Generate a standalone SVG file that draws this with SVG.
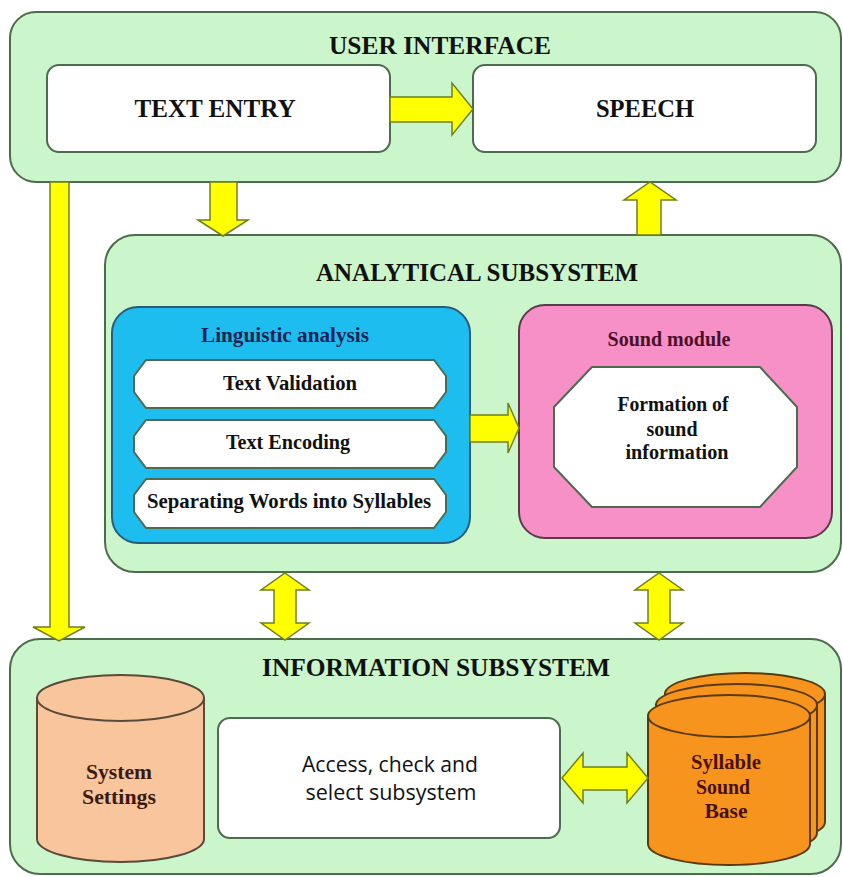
<svg xmlns="http://www.w3.org/2000/svg" width="843" height="877" viewBox="0 0 843 877">
<style>
.pane{fill:#cbf5cb;stroke:#4d6b4d;stroke-width:2}
.wbox{fill:#ffffff;stroke:#4d6b4d;stroke-width:2}
.arr{fill:#ffff00;stroke:#6f7f1a;stroke-width:1.5;stroke-linejoin:miter}
.t{font-family:"Liberation Serif","Times New Roman",serif;font-weight:bold;text-anchor:middle}
.h{font-size:26px;fill:#111}
.m{font-size:20px;fill:#111}
.s{font-family:"Open Sans","Liberation Sans",sans-serif;font-size:21px;fill:#111;text-anchor:middle}
</style>
<rect width="843" height="877" fill="#ffffff"/>

<g id="user-interface">
<rect class="pane" x="10" y="12" width="831" height="170" rx="26"/>
<text class="t h" x="440" y="54" textLength="222" lengthAdjust="spacingAndGlyphs">USER INTERFACE</text>
</g>
<g id="text-entry">
<rect class="wbox" x="47" y="65" width="343" height="87" rx="12"/>
<text class="t h" x="215" y="117" textLength="161" lengthAdjust="spacingAndGlyphs">TEXT ENTRY</text>
</g>
<g id="speech">
<rect class="wbox" x="473" y="65" width="343" height="87" rx="12"/>
<text class="t h" x="645" y="117" textLength="98" lengthAdjust="spacingAndGlyphs">SPEECH</text>
</g>

<g id="analytical-subsystem">
<rect class="pane" x="105" y="235" width="736" height="337" rx="30"/>
<text class="t h" x="477" y="281" textLength="322" lengthAdjust="spacingAndGlyphs">ANALYTICAL SUBSYSTEM</text>
</g>
<g id="linguistic-analysis">
<rect x="112" y="307" width="358" height="236" rx="26" fill="#1dbdf0" stroke="#2b5a7a" stroke-width="2"/>
<text class="t" x="285" y="342" font-size="22" fill="#1a2455" textLength="168" lengthAdjust="spacingAndGlyphs">Linguistic analysis</text>
</g>
<g id="text-validation">
<path class="wbox" d="M146,360 L434,360 L446,376 L446,392 L434,408 L146,408 L134,392 L134,376 Z" stroke-linejoin="round"/>
<text class="t m" x="290" y="390" textLength="134" lengthAdjust="spacingAndGlyphs">Text Validation</text>
</g>
<g id="text-encoding">
<path class="wbox" d="M146,420 L434,420 L446,436 L446,452 L434,468 L146,468 L134,452 L134,436 Z" stroke-linejoin="round"/>
<text class="t m" x="288" y="449" textLength="124" lengthAdjust="spacingAndGlyphs">Text Encoding</text>
</g>
<g id="separating-words">
<path class="wbox" d="M146,479 L434,479 L446,495 L446,512 L434,528 L146,528 L134,512 L134,495 Z" stroke-linejoin="round"/>
<text class="t m" x="289" y="508" textLength="284" lengthAdjust="spacingAndGlyphs">Separating Words into Syllables</text>
</g>
<g id="sound-module">
<rect x="519" y="305" width="313" height="233" rx="26" fill="#f890c8" stroke="#5a3a4a" stroke-width="2"/>
<text class="t" x="669" y="346" font-size="20" fill="#4a1028" textLength="123" lengthAdjust="spacingAndGlyphs">Sound module</text>
</g>
<g id="formation-of-sound-information">
<path class="wbox" d="M592,367 L760,367 L797,407 L797,467 L760,507 L592,507 L554,467 L554,407 Z" stroke-linejoin="round"/>
<text class="t m" x="673" y="411" textLength="111" lengthAdjust="spacingAndGlyphs">Formation of</text>
<text class="t m" x="672" y="436" textLength="51" lengthAdjust="spacingAndGlyphs">sound</text>
<text class="t m" x="677" y="459" textLength="103" lengthAdjust="spacingAndGlyphs">information</text>
</g>

<g id="information-subsystem">
<rect class="pane" x="10" y="639" width="831" height="235" rx="30"/>
<text class="t h" x="436" y="676" textLength="348" lengthAdjust="spacingAndGlyphs">INFORMATION SUBSYSTEM</text>
</g>
<g id="system-settings">
<path d="M37,698 L37,839 A83.5,23 0 0,0 204,839 L204,698 Z" fill="#f8c59c" stroke="#5a4a3a" stroke-width="2"/>
<ellipse cx="120.5" cy="698" rx="83.5" ry="23" fill="#f8c59c" stroke="#5a4a3a" stroke-width="2"/>
<text class="t" x="119" y="779" font-size="20" fill="#3a1a10" textLength="66" lengthAdjust="spacingAndGlyphs">System</text>
<text class="t" x="119" y="804" font-size="20" fill="#3a1a10" textLength="74" lengthAdjust="spacingAndGlyphs">Settings</text>
</g>
<g id="access-check-select">
<rect class="wbox" x="218" y="718" width="342" height="120" rx="12"/>
<text class="s" x="390" y="772" textLength="176" lengthAdjust="spacingAndGlyphs">Access, check and</text>
<text class="s" x="391" y="800" textLength="171" lengthAdjust="spacingAndGlyphs">select subsystem</text>
</g>
<g id="syllable-sound-base">
<path d="M665,694 L665,822 A80,21 0 0,0 825,822 L825,694 Z" fill="#f7941d" stroke="#5a3a10" stroke-width="2"/>
<ellipse cx="745" cy="694" rx="80" ry="21" fill="#f7941d" stroke="#5a3a10" stroke-width="2"/>
<path d="M656,705 L656,833 A80.5,21 0 0,0 817,833 L817,705 Z" fill="#f7941d" stroke="#5a3a10" stroke-width="2"/>
<ellipse cx="736.5" cy="705" rx="80.5" ry="21" fill="#f7941d" stroke="#5a3a10" stroke-width="2"/>
<path d="M648,716 L648,844 A81,21 0 0,0 810,844 L810,716 Z" fill="#f7941d" stroke="#5a3a10" stroke-width="2"/>
<ellipse cx="729" cy="716" rx="81" ry="21" fill="#f7941d" stroke="#5a3a10" stroke-width="2"/>
<text class="t" x="726" y="769" font-size="20" fill="#4a1010" textLength="70" lengthAdjust="spacingAndGlyphs">Syllable</text>
<text class="t" x="723" y="794" font-size="20" fill="#4a1010" textLength="54" lengthAdjust="spacingAndGlyphs">Sound</text>
<text class="t" x="726" y="818" font-size="20" fill="#4a1010" textLength="43" lengthAdjust="spacingAndGlyphs">Base</text>
</g>

<g id="connectors">
<!-- TEXT ENTRY -> SPEECH -->
<path class="arr" d="M390,97 L452,97 L452,83 L473,109 L452,135 L452,122 L390,122 Z"/>
<!-- UI -> Analytical -->
<path class="arr" d="M210,182 L237,182 L237,220 L248,220 L223,236 L198,220 L210,220 Z"/>
<!-- Analytical -> SPEECH -->
<path class="arr" d="M637,235 L637,200 L624,200 L650,182 L676,200 L661,200 L661,235 Z"/>
<!-- UI -> Information -->
<path class="arr" d="M50,182 L69,182 L69,627 L85,627 L59,641 L33,627 L50,627 Z"/>
<!-- Linguistic -> Sound module -->
<path class="arr" d="M470,415 L508,415 L508,403 L519,428 L508,453 L508,442 L470,442 Z"/>
<!-- Analytical <-> Information (left) -->
<path class="arr" d="M285,573 L309,590 L296,590 L296,623 L309,623 L285,640 L261,623 L274,623 L274,590 L261,590 Z"/>
<!-- Analytical <-> Information (right) -->
<path class="arr" d="M659,573 L683,590 L670,590 L670,623 L683,623 L659,640 L635,623 L648,623 L648,590 L635,590 Z"/>
<!-- Access <-> Syllable Sound Base -->
<path class="arr" d="M562,778 L583,753 L583,767 L627,767 L627,753 L648,778 L627,803 L627,790 L583,790 L583,803 Z"/>
</g>
</svg>
